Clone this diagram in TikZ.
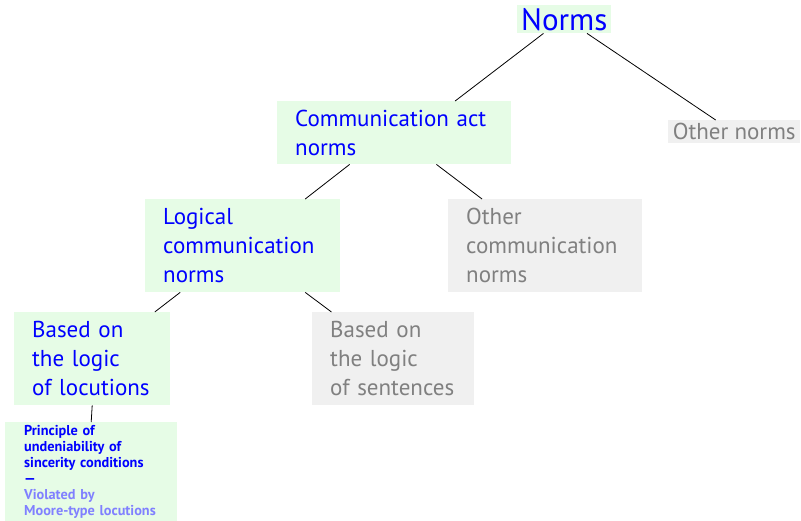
\documentclass[tikz,border=0pt]{standalone}
\usepackage{fontspec}
\setmainfont{PT Sans}
\usetikzlibrary{calc}
\definecolor{normgreen}{HTML}{E6FCE6}
\definecolor{othergray}{HTML}{F0F0F0}
\definecolor{textgray}{HTML}{808080}
\definecolor{violblue}{HTML}{8080FF}
\tikzset{
    kept/.style={
        fill=normgreen,
        text=blue,
        anchor=north west,
        align=left,
        inner xsep=18pt,
        inner ysep=0pt,
        font=\fontsize{23}{29}\selectfont,
        execute at begin node={\hyphenpenalty=10000}
    },
    other/.style={
        kept,
        fill=othergray,
        text=textgray
    },
    link/.style={
        draw,
        line width=0.8pt
    }
}
\begin{document}
\begin{tikzpicture}[x=1pt,y=-1pt]
\useasboundingbox (0,0) rectangle (801,521);
\node[kept,inner xsep=4pt,minimum width=92pt,minimum height=28pt,align=center,font=\fontsize{31}{34}\selectfont] (norms) at (517,5) {Norms};
\node[kept,text width=198pt,minimum height=63pt] (act) at (277,101) {Communication act\\norms};
\node[other,inner xsep=3pt,minimum width=132pt,minimum height=23pt] (othernorms) at (668,120) {Other norms};
\node[kept,text width=159pt,minimum height=93pt] (logical) at (145,199) {Logical\\communication\\norms};
\node[other,text width=158pt,minimum height=93pt] (othercomm) at (448,199) {Other\\communication\\norms};
\node[kept,text width=120pt,minimum height=93pt] (locutions) at (14,312) {Based on\\the logic\\of locutions};
\node[other,text width=126pt,minimum height=93pt] (sentences) at (312,312) {Based on\\the logic\\of sentences};
\node[kept,inner xsep=19pt,text width=134pt,minimum height=99pt,font=\fontsize{14.3}{16}\selectfont\bfseries] (principle) at (5,422)
  {Principle of\\undeniability of\\sincerity conditions\\—\\\textcolor{violblue}{Violated by}\\\textcolor{violblue}{Moore-type locutions}};
% connectors
\draw[link] ($(norms.south west)!0.28!(norms.south east)$) -- ($(act.north west)!0.76!(act.north east)$);
\draw[link] ($(norms.south west)!0.74!(norms.south east)$) -- ($(othernorms.north west)!0.36!(othernorms.north east)$);
\draw[link] ($(act.south west)!0.31!(act.south east)$) -- ($(logical.north west)!0.82!(logical.north east)$);
\draw[link] ($(act.south west)!0.68!(act.south east)$) -- ($(othercomm.north west)!0.175!(othercomm.north east)$);
\draw[link] ($(logical.south west)!0.18!(logical.south east)$) -- ($(locutions.north west)!0.9!(locutions.north east)$);
\draw[link] ($(logical.south west)!0.82!(logical.south east)$) -- ($(sentences.north west)!0.12!(sentences.north east)$);
\draw[link] (locutions.south) -- (principle.north);
\end{tikzpicture}
\end{document}
